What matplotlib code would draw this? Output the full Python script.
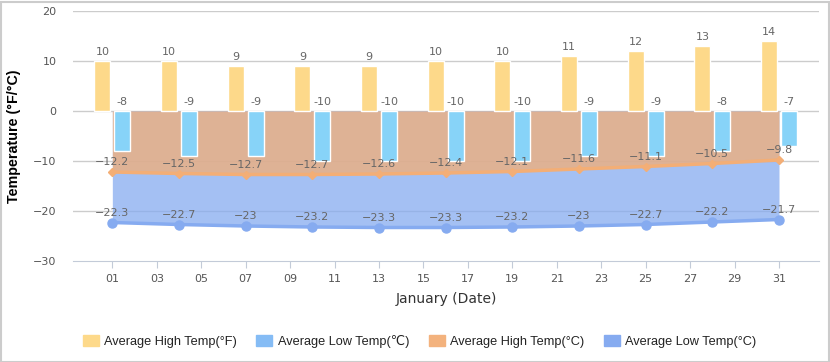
import matplotlib
matplotlib.use("Agg")
import matplotlib.pyplot as plt
from matplotlib.patches import Patch, Rectangle

days = [1, 4, 7, 10, 13, 16, 19, 22, 25, 28, 31]
high_f = [10, 10, 9, 9, 9, 10, 10, 11, 12, 13, 14]
low_bar = [-8, -9, -9, -10, -10, -10, -10, -9, -9, -8, -7]
high_c = [-12.2, -12.5, -12.7, -12.7, -12.6, -12.4, -12.1, -11.6, -11.1, -10.5, -9.8]
low_c = [-22.3, -22.7, -23, -23.2, -23.3, -23.3, -23.2, -23, -22.7, -22.2, -21.7]
xticks = list(range(1, 32, 2))
xticklabels = [f"{d:02d}" for d in xticks]
yticks = [-30, -20, -10, 0, 10, 20]
legend_labels = ["Average High Temp(°F)", "Average Low Temp(℃)",
                 "Average High Temp(°C)", "Average Low Temp(°C)"]

c_yellow = "#fdd98a"
c_sky = "#87d3f8"
c_orange = "#f3ae76"
c_blue = "#86abf0"
lab_col = "#666666"

W, H = 830, 362
fig = plt.figure(figsize=(W / 100, H / 100), dpi=100)
ax = fig.add_axes([73 / W, 1 - 261 / H, 746 / W, 250 / H])
ax.set_xlim(-0.77, 32.8)
ax.set_ylim(-30, 20)

for y in yticks[1:]:
    ax.axhline(y, color="#cccccc", lw=1, zorder=0)

ax.fill_between(days, 0, low_c, color=c_blue, alpha=0.75, lw=0, zorder=1)
ax.fill_between(days, 0, high_c, color=c_orange, alpha=0.75, lw=0, zorder=1.1)

off = 0.45
bw = 0.72
hx = [d - off for d in days]
lx = [d + off for d in days]
ax.bar(hx, high_f, width=bw, color=c_yellow, edgecolor="white", lw=1, zorder=2)
ax.bar(lx, low_bar, width=bw, color=c_sky, edgecolor="white", lw=1, zorder=2)

ax.plot(days, high_c, color=c_orange, lw=2.5, marker="D", ms=4.5, zorder=3)
ax.plot(days, low_c, color=c_blue, lw=2.5, marker="o", ms=6.5, zorder=3)

fs = 8
for x, v in zip(hx, high_f):
    ax.annotate(str(v), (x, v), xytext=(0, 3), textcoords="offset points",
                ha="center", va="bottom", fontsize=fs, color=lab_col, zorder=4)
for x, v in zip(lx, low_bar):
    ax.annotate(str(v), (x, 0), xytext=(0, 3), textcoords="offset points",
                ha="center", va="bottom", fontsize=fs, color=lab_col, zorder=4)
for x, v in zip(days, high_c):
    ax.annotate(f"{v:g}".replace("-", "\u2212"), (x, v), xytext=(0, 3.5), textcoords="offset points",
                ha="center", va="bottom", fontsize=fs, color=lab_col, zorder=4)
for x, v in zip(days, low_c):
    ax.annotate(f"{v:g}".replace("-", "\u2212"), (x, v), xytext=(0, 3.5), textcoords="offset points",
                ha="center", va="bottom", fontsize=fs, color=lab_col, zorder=4)

for s in ["top", "right", "left"]:
    ax.spines[s].set_visible(False)
ax.spines["bottom"].set_color("#c3cbd8")
ax.spines["bottom"].set_zorder(0.5)
ax.set_xticks(xticks)
ax.set_xticklabels(xticklabels)
ax.set_yticks(yticks)
ax.set_yticklabels([str(y).replace("-", "\u2212") for y in yticks])
ax.tick_params(axis="x", length=5, color="#c3cbd8", labelsize=fs, labelcolor="#555555", pad=4)
ax.tick_params(axis="y", length=0, labelsize=fs, labelcolor="#555555", pad=11.8)

ax.set_xlabel("January (Date)", fontsize=10, color="#333333", labelpad=6)
ax.set_ylabel("Temperature (°F/°C)", fontsize=10.3, fontweight="bold", color="black",
              family=["Liberation Sans", "DejaVu Sans"])
ax.yaxis.set_label_coords((21 - 73) / 746, 0.5)

handles = [Patch(color=c) for c in ["#fdd98a", "#85bcf5", "#f3b27d", "#86abf0"]]
leg = fig.legend(handles, legend_labels, loc="center", bbox_to_anchor=(419.5 / W, 1 - 341 / H), ncol=4,
                 frameon=False, handlelength=1.25, handleheight=0.94,
                 handletextpad=0.4, columnspacing=1.55,
                 prop={"family": ["Liberation Sans", "DejaVu Sans"], "size": 9.2})
for t in leg.get_texts():
    t.set_color("#222222")

fig.add_artist(Rectangle((0.5 / W, 0.5 / H), 1 - 2 / W, 1 - 2 / H, transform=fig.transFigure,
                         fill=False, ec="#cccccc", lw=1.5))

fig.savefig("out.png", dpi=100)
